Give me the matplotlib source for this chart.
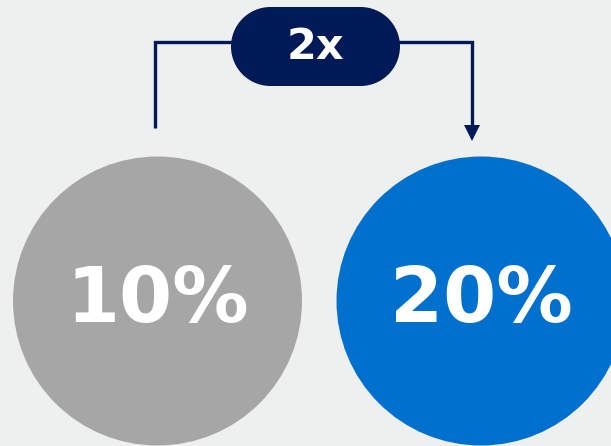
import matplotlib
matplotlib.use("Agg")
import matplotlib.pyplot as plt
from matplotlib.patches import Circle, Rectangle, Polygon

# Values shown in the two bubbles
categories = ["Before", "After"]
shares = [10, 20]
bubble_colors = ["#a6a6a6", "#0070cf"]
ratio_label = f"{shares[1] // shares[0]}x"

BG = "#eef0f0"
NAVY = "#001a57"
FONT = ["DejaVu Sans"]

W, H = 611, 446
fig = plt.figure(figsize=(W / 100, H / 100), dpi=100, facecolor=BG)
ax = fig.add_axes([0, 0, 1, 1])
ax.set_xlim(0, W)
ax.set_ylim(H, 0)
ax.set_aspect("equal")
ax.axis("off")
ax.set_facecolor(BG)

centers_x = [157.5, 481]
cy, r = 301, 144.5

for cx, val, col in zip(centers_x, shares, bubble_colors):
    ax.add_patch(Circle((cx, cy), r, facecolor=col, edgecolor="none"))
    ax.text(cx, cy, f"{val}%", color="white", fontsize=55,
            fontweight="heavy", family=FONT,
            ha="center", va="center")

# Connector bracket with arrow into the second bubble
lx, rx = 155, 472
top_y = 42
ax.plot([lx, lx, rx, rx], [128, top_y, top_y, 126], color=NAVY,
        lw=2.4, solid_joinstyle="miter", solid_capstyle="butt")
ax.add_patch(Polygon([[rx - 8, 125], [rx + 8, 125], [rx, 141]],
                     closed=True, facecolor=NAVY, edgecolor="none"))

# Pill holding the multiplier
px0, px1, py0, py1 = 231, 400, 7, 86
rad = (py1 - py0) / 2
pmid = (py0 + py1) / 2
ax.add_patch(Rectangle((px0 + rad, py0), (px1 - px0) - 2 * rad, py1 - py0,
                       facecolor=NAVY, edgecolor="none"))
ax.add_patch(Circle((px0 + rad, pmid), rad, facecolor=NAVY, edgecolor="none"))
ax.add_patch(Circle((px1 - rad, pmid), rad, facecolor=NAVY, edgecolor="none"))
ax.text((px0 + px1) / 2, 47, ratio_label, color="white", fontsize=31,
        fontweight="heavy", family=FONT, ha="center", va="center")

fig.savefig("out.png", dpi=100, facecolor=BG)
